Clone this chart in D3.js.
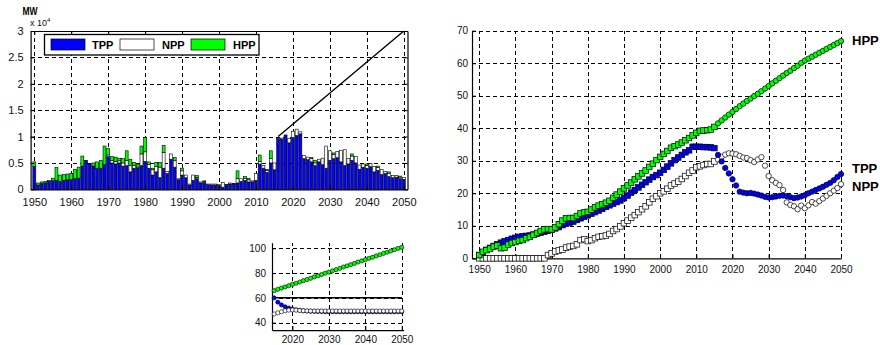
<!DOCTYPE html>
<html>
<head>
<meta charset="utf-8">
<script src="https://cdn.jsdelivr.net/npm/d3@7"></script>
<style>
  body { margin: 0; background: #fff; }
  svg { font-family: Arial, "Liberation Sans", sans-serif; }
</style>
</head>
<body>
<svg id="chart" width="880" height="345"></svg>
<script>
// ---------- categories ----------
const years = d3.range(1950, 2051);          // 1950 … 2050
const smallYears = d3.range(2015, 2051);     // 2015 … 2050
const seriesKeys = ["TPP", "NPP", "HPP"];

// ---------- annual capacity additions, MW x 10^4 ----------
const tppAdd = [
  .43,.08,.11,.12,.15,.16,.17,.15,.17,.18,
  .18,.20,.21,.44,.55,.49,.44,.40,.40,.47,
  .62,.50,.48,.50,.44,.45,.33,.40,.40,.45,
  .53,.40,.27,.33,.22,.40,.30,.57,.42,.18,
  .27,.22,.08,.17,.20,.12,.13,.09,.08,.08,
  .07,.04,.08,.10,.10,.12,.15,.17,.14,.14,
  .17,.48,.40,.32,.50,.37,.96,.95,1.03,.88,
  .98,1.02,1.05,.58,.56,.52,.45,.52,.47,.40,
  .55,.58,.60,.52,.45,.48,.55,.50,.38,.42,
  .40,.43,.33,.36,.28,.30,.24,.22,.23,.20,
  .19
];
const nppAdd = [
  0,0,0,0,0,0,0,0,0,0,
  0,0,0,0,0,0,0,0,0,0,
  .03,.05,.05,.04,.06,.10,.12,.05,.02,.22,
  .18,.07,.10,.10,.20,.30,.04,.10,.12,.02,
  .08,.05,.02,.10,.02,.02,.02,.01,.02,.02,
  .02,.09,.01,.02,.01,.08,.05,.03,.04,.02,
  .13,.05,.05,.04,.08,.13,0,.02,0,.08,
  .12,.12,.04,.06,.05,.06,.05,.05,.12,.42,
  .18,.08,.12,.22,.30,.10,.08,.12,.08,.06,
  .05,.06,.10,.05,.10,.04,.06,.04,.03,.03,
  .03
];
const hppAdd = [
  .09,.04,.03,.03,.02,.05,.24,.12,.11,.11,
  .12,.18,.21,.19,0,0,.06,.12,.15,.35,
  .12,.07,.08,.05,.08,.18,.12,.06,.06,.15,
  .27,.05,.03,.08,.09,.13,0,0,.06,0,
  .05,0,0,0,.04,0,.01,0,0,0,
  0,0,0,0,0,.15,0,.04,.03,0,
  0,.12,0,.02,.15,0,0,0,0,0,
  0,0,0,0,0,.02,.05,0,0,0,
  0,.03,0,0,0,0,.04,0,0,0,
  .03,0,0,.03,0,0,.03,0,0,.02,
  0
];
const trendYears = [2016, 2050];
const trendValues = [1.0, 3.0];

// ---------- right panel series ----------
const tppShare = [
  1.0,1.8,2.6,3.2,3.8,4.3,4.8,5.2,5.6,6.0,
  6.3,6.6,6.8,6.9,7.0,7.3,7.6,7.9,8.2,8.5,
  8.8,9.2,9.6,10.2,10.7,11.0,11.3,11.8,12.3,12.8,
  13.2,13.7,14.2,14.7,15.2,15.8,16.3,16.8,17.3,17.8,
  18.5,19.3,20.2,21.0,21.8,22.6,23.4,24.2,25.0,25.6,
  26.3,27.2,28.2,29.2,30.2,31.0,31.8,32.6,33.2,34.3,
  34.3,34.3,34.2,34.2,34.1,33.9,31.8,29.8,27.8,26.1,
  24.3,22.4,20.5,20.2,20.0,20.1,19.9,19.6,19.3,18.9,
  18.7,18.8,19.0,19.2,19.3,19.1,18.8,18.5,18.7,19.0,
  19.4,20.0,20.5,21.0,21.5,22.0,22.6,23.2,24.0,25.0,
  25.9
];
const nppShare = [
  0,0,0,0,0,0,0,0,0,0,
  0,0,0,0,0,0,0,0,0,1.0,
  1.5,2.1,2.4,2.7,3.3,3.6,3.8,4.3,5.6,5.9,
  5.3,5.6,6.2,6.6,6.8,7.0,7.5,8.4,9.0,9.8,
  10.8,11.6,12.5,13.3,14.2,15.1,16.0,17.2,18.3,19.1,
  20.0,20.6,21.4,22.4,23.0,23.6,24.4,25.3,26.3,27.0,
  28.0,28.3,28.7,29.0,29.0,29.8,30.4,31.2,31.9,32.3,
  32.2,32.0,31.5,31.0,30.8,30.2,29.6,30.4,31.1,28.5,
  25.3,24.0,23.2,22.5,21.0,17.2,16.4,16.0,15.1,16.2,
  15.4,16.3,17.3,16.8,17.6,18.4,19.2,20.0,20.8,21.6,
  22.8
];
const hppShare = [
  1.0,2.0,2.5,3.0,3.6,3.9,3.1,3.3,4.2,4.7,
  5.0,5.4,5.6,6.2,6.6,7.2,7.8,8.4,8.9,9.0,
  8.9,9.5,10.5,11.6,12.3,12.4,12.4,13.0,13.8,14.1,
  14.3,15.0,15.7,16.2,16.6,17.1,17.7,18.6,19.6,20.5,
  21.5,22.4,23.3,24.3,25.2,26.1,27.0,28.1,29.1,30.2,
  31.2,32.1,33.0,34.0,34.5,35.0,35.6,36.3,37.0,37.8,
  38.6,39.2,39.3,39.4,39.6,40.4,41.5,42.4,43.3,44.2,
  45.0,45.9,46.8,47.6,48.4,49.1,49.9,50.6,51.4,52.2,
  53.0,53.8,54.6,55.4,56.2,57.0,57.7,58.5,59.2,60.1,
  60.8,61.4,62.0,62.6,63.2,63.8,64.4,65.0,65.6,66.2,
  66.8
];
const lastMeasuredYear = 2015;  // squares up to this year, circles after

// ---------- lower small panel series ----------
const hppSmall = [
  65.8,66.9,67.9,68.8,69.8,70.9,71.8,72.8,73.9,74.8,
  75.8,76.9,77.8,78.8,79.9,80.8,81.8,82.8,83.8,84.9,
  85.8,86.8,87.8,88.9,89.8,90.8,91.9,92.8,93.8,94.8,
  95.9,96.8,97.8,98.8,99.9,100.8
];
const tppSmall = [
  60.0,56.5,54.3,52.8,51.8,51.0,50.4,50.0,49.6,49.4,
  49.2,49.1,49.0,49.0,48.9,48.9,48.9,48.8,48.8,48.8,
  48.8,48.8,48.8,48.8,48.8,48.8,48.8,48.8,48.8,48.8,
  48.8,48.8,48.8,48.8,48.8,48.8
];
const nppSmall = [
  47.0,47.9,48.8,49.6,50.1,50.3,50.1,49.8,49.6,49.5,
  49.4,49.4,49.4,49.4,49.4,49.4,49.4,49.4,49.4,49.4,
  49.4,49.4,49.4,49.4,49.4,49.4,49.4,49.4,49.4,49.4,
  49.4,49.4,49.4,49.4,49.4,49.4
];
const refYears = [2015, 2050];
const refLevel = [60, 60];

// ---------- ticks ----------
const decadeTicks = [1950,1960,1970,1980,1990,2000,2010,2020,2030,2040,2050];
const addTicks = [0, 0.5, 1, 1.5, 2, 2.5, 3];
const addTickLabels = ["0", "0.5", "1", "1.5", "2", "2.5", "3"];
const shareTicks = [0, 10, 20, 30, 40, 50, 60, 70];
const smallYTicks = [40, 60, 80, 100];
const smallXTicks = [2020, 2030, 2040, 2050];

const colors = { TPP: "#0000ff", NPP: "#ffffff", HPP: "#00ff00" };

const svg = d3.select("#chart");

// dashed grid helper
function dashGrid(g) {
  g.select(".domain").remove();
  g.selectAll(".tick text").remove();
  g.selectAll(".tick line")
    .attr("stroke", "#000")
    .attr("stroke-width", 1)
    .attr("shape-rendering", "crispEdges")
    .attr("stroke-dasharray", "4,3");
}
function styleAxis(g, size) {
  g.select(".domain").attr("stroke", "#000").attr("stroke-width", 1.2);
  g.selectAll(".tick line").attr("stroke", "#000");
  g.selectAll(".tick text").attr("fill", "#111").style("font-size", size + "px");
}

// ================= top-left: stacked annual additions =================
{
  const L = 30.6, R = 407.5, T = 31, B = 189.3;
  const x = d3.scaleLinear().domain([1949, 2051]).range([L, R]);
  const y = d3.scaleLinear().domain([0, 3]).range([B, T]);
  const g = svg.append("g");

  g.append("g").attr("transform", `translate(0,${B})`)
    .call(d3.axisBottom(x).tickValues(decadeTicks).tickSize(-(B - T)))
    .call(dashGrid);
  g.append("g").attr("transform", `translate(${L},0)`)
    .call(d3.axisLeft(y).tickValues([0.5, 1, 1.5, 2, 2.5]).tickSize(-(R - L)))
    .call(dashGrid);

  const rows = years.map((yr, i) => ({ year: yr, TPP: tppAdd[i], NPP: nppAdd[i], HPP: hppAdd[i] }));
  const stacked = d3.stack().keys(seriesKeys)(rows);
  const bw = x(1949.8) - x(1949);

  g.append("g").selectAll("g").data(stacked).join("g")
    .attr("fill", d => colors[d.key])
    .selectAll("rect")
    .data(d => d.filter(p => p[1] - p[0] > 0))
    .join("rect")
    .attr("x", p => x(p.data.year) - bw / 2)
    .attr("width", bw)
    .attr("y", p => y(p[1]))
    .attr("height", p => y(p[0]) - y(p[1]))
    .attr("stroke", "#000")
    .attr("stroke-width", 0.6);

  g.append("path")
    .datum(trendYears.map((yr, i) => [yr, trendValues[i]]))
    .attr("fill", "none").attr("stroke", "#000").attr("stroke-width", 1.4)
    .attr("d", d3.line().x(d => x(d[0])).y(d => y(d[1])));

  // frame
  g.append("g").attr("transform", `translate(0,${B})`)
    .call(d3.axisBottom(x).tickValues(decadeTicks).tickFormat(d3.format("d"))
      .tickSizeInner(-4).tickSizeOuter(0).tickPadding(8.5))
    .call(s => styleAxis(s, 11));
  g.append("g").attr("transform", `translate(${L},0)`)
    .call(d3.axisLeft(y).tickValues(addTicks).tickFormat((d, i) => addTickLabels[i])
      .tickSizeInner(-4).tickSizeOuter(0).tickPadding(7))
    .call(s => styleAxis(s, 11));
  g.append("g").attr("transform", `translate(0,${T})`)
    .call(d3.axisTop(x).tickValues(decadeTicks).tickFormat("")
      .tickSizeInner(-4).tickSizeOuter(0))
    .call(s => styleAxis(s, 11));
  g.append("g").attr("transform", `translate(${R},0)`)
    .call(d3.axisRight(y).tickValues(addTicks).tickFormat("")
      .tickSizeInner(-4).tickSizeOuter(0))
    .call(s => styleAxis(s, 11));

  // unit label
  g.append("text").attr("x", 22.5).attr("y", 15)
    .attr("font-weight", "bold").style("font-size", "11px")
    .attr("textLength", 15).attr("lengthAdjust", "spacingAndGlyphs").text("MW");
  const u = g.append("text").attr("x", 30).attr("y", 26).style("font-size", "9px").attr("fill", "#111");
  u.append("tspan").text("x 10");
  u.append("tspan").attr("dy", -4.5).style("font-size", "6px").text("4");

  // legend
  const lg = g.append("g");
  lg.append("rect").attr("x", 44.5).attr("y", 34.5).attr("width", 214.5).attr("height", 20.5)
    .attr("fill", "#fff").attr("stroke", "#000").attr("stroke-width", 1.3);
  const items = [
    { key: "TPP", sx: 51, tx: 92 },
    { key: "NPP", sx: 120, tx: 162 },
    { key: "HPP", sx: 191, tx: 233 }
  ];
  items.forEach(it => {
    lg.append("rect").attr("x", it.sx).attr("y", 39).attr("width", 34).attr("height", 11)
      .attr("fill", colors[it.key]).attr("stroke", "#000").attr("stroke-width", 0.7);
    lg.append("text").attr("x", it.tx).attr("y", 48.5).attr("font-weight", "bold")
      .style("font-size", "11px").text(it.key);
  });
}

// ================= right: long-run trajectories =================
{
  const L = 472, R = 841, T = 30.7, B = 258.3;
  const x = d3.scaleLinear().domain([1948, 2050]).range([L, R]);
  const y = d3.scaleLinear().domain([0, 70]).range([B, T]);
  const g = svg.append("g");

  g.append("g").attr("transform", `translate(0,${B})`)
    .call(d3.axisBottom(x).tickValues(decadeTicks).tickSize(-(B - T)))
    .call(dashGrid);
  g.append("g").attr("transform", `translate(${L},0)`)
    .call(d3.axisLeft(y).tickValues(shareTicks.slice(1)).tickSize(-(R - L)))
    .call(dashGrid);

  g.append("g").attr("transform", `translate(0,${B})`)
    .call(d3.axisBottom(x).tickValues(decadeTicks).tickFormat(d3.format("d"))
      .tickSizeInner(-4).tickSizeOuter(0).tickPadding(8))
    .call(s => styleAxis(s, 10));
  g.append("g").attr("transform", `translate(${L},0)`)
    .call(d3.axisLeft(y).tickValues(shareTicks)
      .tickSizeInner(-4).tickSizeOuter(0).tickPadding(4))
    .call(s => styleAxis(s, 10));

  const series = [
    { key: "NPP", values: nppShare },
    { key: "TPP", values: tppShare },
    { key: "HPP", values: hppShare }
  ];
  series.forEach(s => {
    const pts = years.map((yr, i) => ({ year: yr, v: s.values[i] }));
    const sg = g.append("g").attr("fill", colors[s.key]).attr("stroke", "#000").attr("stroke-width", 0.7);
    sg.selectAll("rect").data(pts.filter(p => p.year <= lastMeasuredYear)).join("rect")
      .attr("x", p => x(p.year) - 2.8).attr("y", p => y(p.v) - 2.8)
      .attr("width", 5.6).attr("height", 5.6);
    sg.selectAll("circle").data(pts.filter(p => p.year > lastMeasuredYear)).join("circle")
      .attr("cx", p => x(p.year)).attr("cy", p => y(p.v)).attr("r", 2.7);
  });

  const endLabels = [
    { key: "HPP", yy: 45 },
    { key: "TPP", yy: 173 },
    { key: "NPP", yy: 190.5 }
  ];
  g.selectAll("text.end").data(endLabels).join("text")
    .attr("class", "end")
    .attr("x", 852).attr("y", d => d.yy)
    .attr("font-weight", "bold").style("font-size", "13px")
    .text(d => d.key);
}

// ================= lower small panel: 2015-2050 =================
{
  const L = 272, R = 403.6, T = 242.7, B = 330.1;
  const x = d3.scaleLinear().domain([2014.4, 2050.5]).range([L, R]);
  const y = d3.scaleLinear().domain([34, 104.5]).range([B, T]);
  const g = svg.append("g");

  g.append("g").attr("transform", `translate(0,${B})`)
    .call(d3.axisBottom(x).tickValues(smallXTicks).tickSize(-(B - T)))
    .call(dashGrid);
  g.append("g").attr("transform", `translate(${L},0)`)
    .call(d3.axisLeft(y).tickValues(smallYTicks).tickSize(-(R - L)))
    .call(dashGrid);

  g.append("g").attr("transform", `translate(0,${B})`)
    .call(d3.axisBottom(x).tickValues(smallXTicks).tickFormat(d3.format("d"))
      .tickSizeInner(-4).tickSizeOuter(0).tickPadding(5.5))
    .call(s => styleAxis(s, 10));
  g.append("g").attr("transform", `translate(${L},0)`)
    .call(d3.axisLeft(y).tickValues(smallYTicks)
      .tickSizeInner(-4).tickSizeOuter(0).tickPadding(6))
    .call(s => styleAxis(s, 10));

  g.append("path")
    .datum(refYears.map((yr, i) => [yr, refLevel[i]]))
    .attr("fill", "none").attr("stroke", "#000").attr("stroke-width", 1.5)
    .attr("d", d3.line().x(d => x(d[0])).y(d => y(d[1])));

  const series = [
    { key: "HPP", values: hppSmall },
    { key: "TPP", values: tppSmall },
    { key: "NPP", values: nppSmall }
  ];
  series.forEach(s => {
    g.append("g").attr("fill", colors[s.key]).attr("stroke", "#000").attr("stroke-width", 0.6)
      .selectAll("circle").data(smallYears.map((yr, i) => ({ year: yr, v: s.values[i] })))
      .join("circle")
      .attr("cx", p => x(p.year)).attr("cy", p => y(p.v)).attr("r", 2.1);
  });
}
</script>
</body>
</html>
